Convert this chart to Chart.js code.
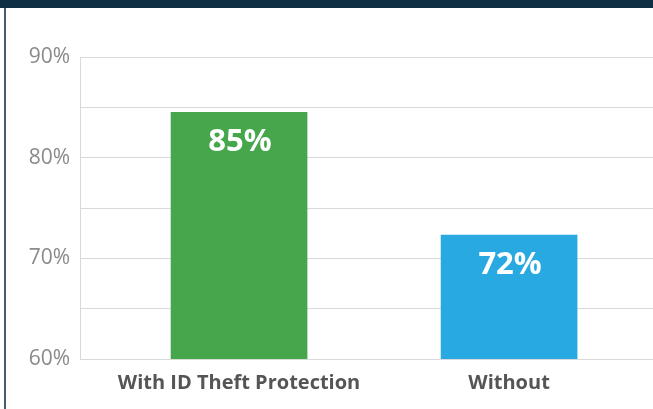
<!DOCTYPE html>
<html>
<head>
<meta charset="utf-8">
<script src="https://cdn.jsdelivr.net/npm/chart.js@4/dist/chart.umd.min.js"></script>
<style>
  html, body { margin: 0; padding: 0; background: #fff; }
  #wrap { position: relative; width: 653px; height: 409px; overflow: hidden; }
  #band { position: absolute; left: 0; top: 0; width: 653px; height: 8px; background: #0f3044; }
  #edge { position: absolute; left: 4px; top: 8px; width: 2px; height: 401px; background: #4b5c68; }
  canvas { position: absolute; left: 0; top: 0; }
</style>
</head>
<body>
<div id="wrap">
  <canvas id="c" width="653" height="409"></canvas>
  <div id="band"></div>
  <div id="edge"></div>
</div>
<script>
const categories = ["With ID Theft Protection", "Without"];
const values = [84.5, 72.3];
const valueLabels = ["85%", "72%"];
const barColors = ["#46a64c", "#29a9e1"];
const yTicks = [60, 70, 80, 90];

const valueLabelPlugin = {
  id: 'valueLabels',
  afterDatasetsDraw(chart) {
    const ctx = chart.ctx;
    const meta = chart.getDatasetMeta(0);
    ctx.save();
    ctx.fillStyle = '#ffffff';
    ctx.font = 'bold 31px "Open Sans"';
    ctx.textAlign = 'center';
    ctx.textBaseline = 'alphabetic';
    meta.data.forEach((bar, i) => {
      ctx.fillText(valueLabels[i], bar.x + 1, bar.y + 39);
    });
    ctx.restore();
  }
};

new Chart(document.getElementById('c'), {
  type: 'bar',
  data: {
    datasets: [{
      data: values.map((v, i) => ({ x: i, y: v })),
      backgroundColor: barColors,
      barThickness: 136,
      borderWidth: 0
    }]
  },
  options: {
    responsive: false,
    animation: false,
    layout: { padding: { left: 0, right: 0, top: 57, bottom: 0 } },
    plugins: { legend: { display: false }, tooltip: { enabled: false } },
    scales: {
      x: {
        type: 'linear',
        offset: false,
        bounds: 'ticks',
        min: -0.589,
        max: 1.533,
        grid: { display: false },
        border: { color: '#d9d9d9', width: 1 },
        afterBuildTicks(axis) { axis.ticks = categories.map((c, i) => ({ value: i })); },
        afterFit(axis) { axis.height = 50; },
        ticks: {
          autoSkip: false,
          maxRotation: 0,
          padding: 4,
          color: '#555555',
          font: { family: '"Open Sans"', size: 20, weight: 'bold' },
          callback: (v) => categories[v]
        }
      },
      y: {
        min: 60,
        max: 90,
        afterFit(axis) { axis.width = 80; },
        grid: { color: '#d9d9d9', lineWidth: 1, drawTicks: false },
        border: { color: '#d9d9d9', width: 1 },
        ticks: {
          stepSize: 5,
          padding: 10,
          color: '#8a8a8a',
          font: { family: '"Open Sans"', size: 21 },
          callback: (v) => yTicks.includes(v) ? v + '%' : ''
        }
      }
    }
  },
  plugins: [valueLabelPlugin]
});
</script>
</body>
</html>
